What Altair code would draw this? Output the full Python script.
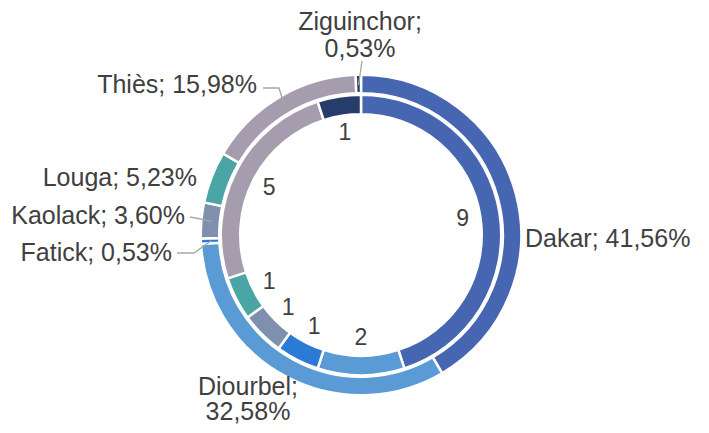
import math
import altair as alt
import pandas as pd

# ---------------- data ----------------
regions = ["Dakar", "Diourbel", "Fatick", "Kaolack", "Louga", "Thiès", "Ziguinchor"]
shares = [41.56, 32.58, 0.53, 3.60, 5.23, 15.98, 0.53]   # outer ring (%)
counts = [9, 2, 1, 1, 1, 5, 1]                            # inner ring
colors = ["#4766b1", "#5b9bd5", "#2a7ad6", "#7f8fae", "#4ba5a5", "#a59cae", "#263c69"]

# ---------------- layout ----------------
W, H = 600, 380
CX, CY = W / 2, H / 2
FONT = "Liberation Sans, Arial, sans-serif"
TXT = "#404040"
R_OUT, R_OUT2 = 160.25, 141.75
R_IN, R_IN2 = 140.25, 120.75
R_NUM = 103
R_LEAD = 150

# label anchor offsets from the ring centre (dx, dy, align, two_lines, line_gap)
label_layout = {
    "Dakar": (164, 12, "left", False, 0),
    "Diourbel": (-113, 159.5, "center", True, 25.5),
    "Fatick": (-189, 26, "right", False, 0),
    "Kaolack": (-176, -11, "right", False, 0),
    "Louga": (-164, -49, "right", False, 0),
    "Thiès": (-104, -142, "right", False, 0),
    "Ziguinchor": (-1, -205.5, "center", True, 27),
}
# leader polyline points (offsets from centre) before reaching the ring
leader_layout = {
    "Thiès": [(-98, -147), (-82, -147)],
    "Kaolack": [(-171, -18)],
    "Fatick": [(-184, 18), (-167, 18)],
    "Ziguinchor": [(1, -174)],
}

total = sum(shares)
cum = 0.0
mid_angles = []
for s in shares:
    mid_angles.append((cum + s / 2) / total * 2 * math.pi)
    cum += s

df = pd.DataFrame({"region": regions, "share": shares, "count": counts,
                   "idx": list(range(len(regions)))})

lab_rows = []
for r, s in zip(regions, shares):
    dx, dy, al, two, gap = label_layout[r]
    pct = f"{s:.2f}".replace(".", ",") + "%"
    lines_txt = [f"{r};", pct] if two else [f"{r}; {pct}"]
    for k, t in enumerate(lines_txt):
        lab_rows.append({"region": r, "label": t, "lx": CX + dx,
                         "ly": CY + dy + k * gap, "align": al})
labels = pd.DataFrame(lab_rows)

lead_rows = []
for r, a in zip(regions, mid_angles):
    if r not in leader_layout:
        continue
    pts = leader_layout[r]
    for i, (dx, dy) in enumerate(pts):
        lead_rows.append({"region": r, "seq": i, "x": CX + dx, "y": CY + dy})
    lead_rows.append({"region": r, "seq": len(pts),
                      "x": CX + R_LEAD * math.sin(a), "y": CY - R_LEAD * math.cos(a)})
leaders = pd.DataFrame(lead_rows)

color = alt.Color("region:N", scale=alt.Scale(domain=regions, range=colors), legend=None)
order = alt.Order("idx:Q")

outer = alt.Chart(df).mark_arc(outerRadius=R_OUT, innerRadius=R_OUT2, stroke="white",
                               strokeWidth=2.5).encode(
    theta=alt.Theta("share:Q", stack=True), color=color, order=order)

inner = alt.Chart(df).mark_arc(outerRadius=R_IN, innerRadius=R_IN2, stroke="white",
                               strokeWidth=2.5).encode(
    theta=alt.Theta("count:Q", stack=True), color=color, order=order)

nums = alt.Chart(df).mark_text(radius=R_NUM, fontSize=23, font=FONT, color=TXT,
                               baseline="middle", align="center").encode(
    theta=alt.Theta("count:Q", stack=True), order=order, text="count:Q")

lines = alt.Chart(leaders).mark_line(color="#a6a6a6", strokeWidth=1.3).encode(
    x=alt.X("x:Q", scale=None), y=alt.Y("y:Q", scale=None),
    detail="region:N", order="seq:Q")

text_layers = []
for al in ["left", "center", "right"]:
    sub = labels[labels["align"] == al]
    if sub.empty:
        continue
    text_layers.append(
        alt.Chart(sub).mark_text(
            align=al, baseline="alphabetic", fontSize=25, font=FONT, color=TXT).encode(
            x=alt.X("lx:Q", scale=None), y=alt.Y("ly:Q", scale=None), text="label:N"))

chart = alt.layer(outer, inner, nums, lines, *text_layers).resolve_scale(
    theta="independent").properties(
    width=W, height=H, autosize="none",
    padding={"left": 53, "top": 37, "right": 40, "bottom": 0}).configure_view(stroke=None)

chart.save("out.html", embed_options={"renderer": "svg", "actions": False})
